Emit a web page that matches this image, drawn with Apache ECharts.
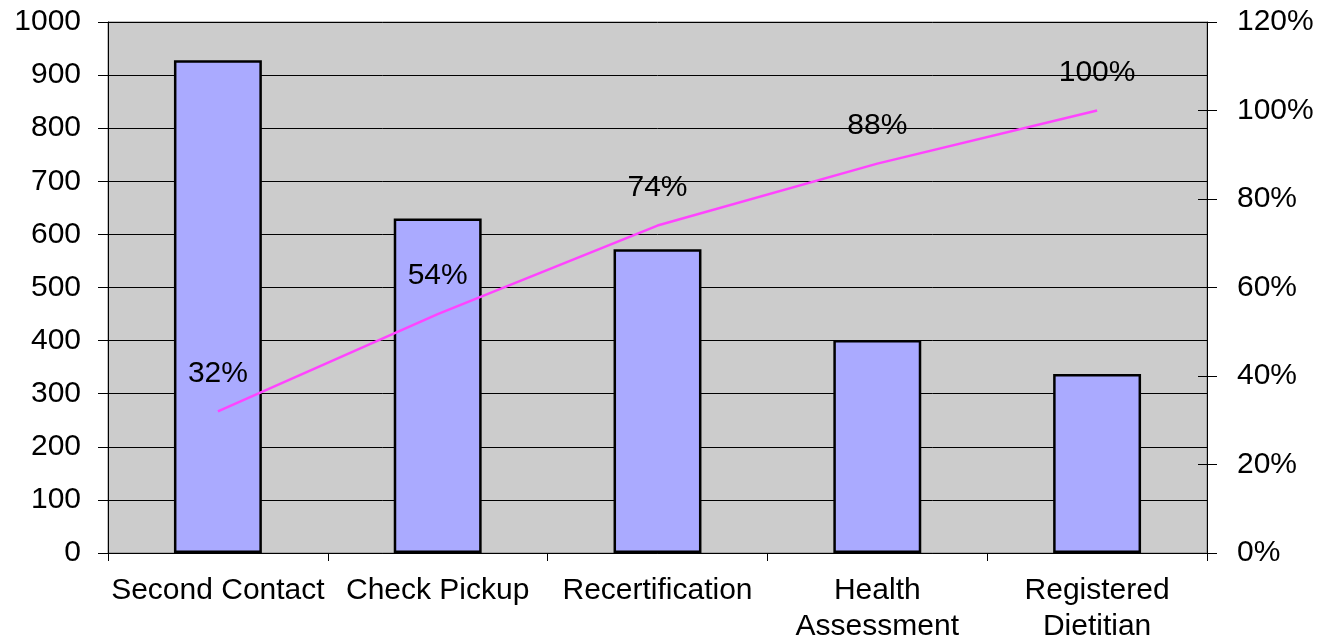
<!DOCTYPE html>
<html><head><meta charset="utf-8">
<script src="https://cdn.jsdelivr.net/npm/echarts@6/dist/echarts.min.js"></script>
<style>html,body{margin:0;padding:0;background:#fff}#c{width:1321px;height:640px}</style>
</head><body><div id="c"></div>
<script>
const categories = ['Second Contact','Check Pickup','Recertification','Health\nAssessment','Registered\nDietitian'];
const counts = [928, 630, 572, 401, 337];
const cumulative = [32, 54, 74, 88, 100];
const leftTicks = [0, 1000, 100];
const rightTicks = [0, 120, 20];

const chart = echarts.init(document.getElementById('c'));
const font = 'Liberation Sans, Arial, sans-serif';
chart.setOption({
  animation: false,
  grid: {left:108, right:114, top:22, bottom:87, outerBoundsMode:'none', containLabel:false,
         show:true, backgroundColor:'#cccccc', borderColor:'#808080', borderWidth:1},
  xAxis: {
    type:'category', data:categories,
    axisLine:{show:true, lineStyle:{color:'#000', width:1}},
    axisTick:{show:true, length:8, lineStyle:{color:'#000'}},
    axisLabel:{color:'#000', fontSize:30, fontFamily:font, margin:20, lineHeight:36, interval:0}
  },
  yAxis: [
    {type:'value', min:leftTicks[0], max:leftTicks[1], interval:leftTicks[2],
     axisLine:{show:true, lineStyle:{color:'#000'}},
     axisTick:{show:true, length:10, lineStyle:{color:'#000'}},
     splitLine:{show:true, lineStyle:{color:'#000', width:1}},
     axisLabel:{color:'#000', fontSize:30, fontFamily:font, margin:27, formatter:function(v){return String(v);}}},
    {type:'value', min:rightTicks[0], max:rightTicks[1], interval:rightTicks[2], position:'right',
     axisLine:{show:true, lineStyle:{color:'#000'}},
     axisTick:{show:true, length:10, lineStyle:{color:'#000'}},
     splitLine:{show:false},
     axisLabel:{color:'#000', fontSize:30, fontFamily:font, margin:30, formatter:'{value}%'}},
    {type:'value', min:rightTicks[0], max:rightTicks[1], interval:rightTicks[2], position:'right',
     axisLine:{show:false},
     axisTick:{show:true, inside:true, length:9, lineStyle:{color:'#000'}},
     splitLine:{show:false},
     axisLabel:{show:false}}
  ],
  series: [
    {type:'bar', data:counts, barWidth:'40%', yAxisIndex:0,
     itemStyle:{color:'#aaaaff', borderColor:'#000', borderWidth:2.5}},
    {type:'line', data:cumulative, yAxisIndex:1, symbol:'circle', symbolSize:0, showSymbol:true,
     lineStyle:{color:'#ff44ff', width:2.5},
     itemStyle:{color:'#ff44ff'},
     label:{show:true, position:'top', distance:23, formatter:'{c}%', color:'#000', fontSize:30, fontFamily:font}}
  ]
});
</script></body></html>
